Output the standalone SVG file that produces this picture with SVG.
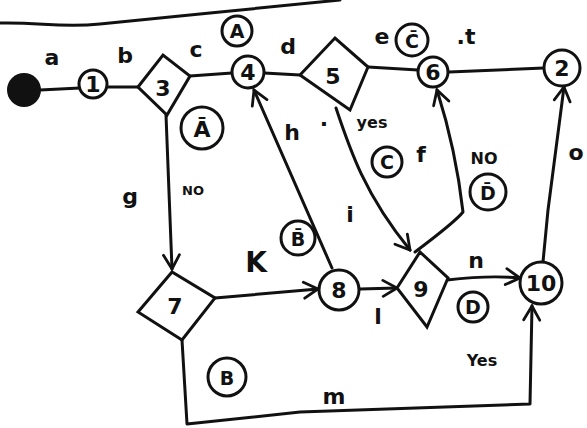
<svg xmlns="http://www.w3.org/2000/svg" width="587" height="428" viewBox="0 0 587 428">
<style>
.s{fill:none;stroke:#111;stroke-width:3;stroke-linecap:round;stroke-linejoin:round}
.n{fill:#fff;stroke:#111;stroke-width:3}
.t{font-family:"DejaVu Sans","Liberation Sans",sans-serif;fill:#111;text-anchor:middle;font-weight:bold}
.lab{font-size:22px}
.num{font-size:22px}
.cl{font-size:19px}
.sm{font-size:13px}
</style>
<defs>
<marker id="ar" markerUnits="userSpaceOnUse" markerWidth="20" markerHeight="20" viewBox="0 0 20 20" refX="18" refY="10" orient="auto">
<path d="M4,2 L18,10 L4,18" fill="none" stroke="#111" stroke-width="2.8" stroke-linecap="round"/>
</marker>
</defs>
<rect width="587" height="428" fill="#fff"/>
<path class="s" d="M0 23 C40 22 60 28 100 24 L210 13 L340 0" stroke-width="2.5"/>
<g id="connectors">
<path class="s" d="M40 90 L80 88" stroke-width="7"/>
<path class="s" d="M108 87 L138 87"/>
<path class="s" d="M190 76 L232 73"/>
<path class="s" d="M264 73 L300 75"/>
<path class="s" d="M368 67 L418 70"/>
<path class="s" d="M449 72 L544 68"/>
<path class="s" d="M166 115 L172 269" marker-end="url(#ar)"/>
<path class="s" d="M215 298 L318 289" marker-end="url(#ar)"/>
<path class="s" d="M332 268 L254 90" marker-end="url(#ar)"/>
<path class="s" d="M336 108 C350 150 365 195 410 250" marker-end="url(#ar)"/>
<path class="s" d="M360 289 L397 288" marker-end="url(#ar)"/>
<path class="s" d="M447 280 Q490 275 520 278" marker-end="url(#ar)"/>
<path class="s" d="M415 252 Q455 222 463 212 Q456 150 437 90" marker-end="url(#ar)"/>
<path class="s" d="M543 262 L548 210 L564 87" marker-end="url(#ar)"/>
<path class="s" d="M182 340 L187 424 L300 412 L530 404 L532 306" marker-end="url(#ar)"/>
</g>
<g id="start"><circle cx="24" cy="90" r="17" fill="#111"/></g>
<g id="n1"><circle class="n" cx="93" cy="84" r="14"/><text class="t num" x="93" y="92">1</text></g>
<g id="n3"><path class="n" d="M138 87 L163 55 L190 76 L167 115 Z"/><text class="t num" x="163" y="96">3</text></g>
<g id="n4"><circle class="n" cx="248" cy="72" r="16"/><text class="t num" x="248" y="80">4</text></g>
<g id="n5"><path class="n" d="M300 75 L335 38 L368 67 L350 110 Z"/><text class="t num" x="333" y="84">5</text></g>
<g id="n6"><circle class="n" cx="433" cy="72" r="15"/><text class="t num" x="433" y="80">6</text></g>
<g id="n2"><circle class="n" cx="562" cy="68" r="18"/><text class="t num" x="562" y="76">2</text></g>
<g id="n7"><path class="n" d="M138 312 L172 272 L215 298 L182 340 Z"/><text class="t num" x="175" y="314">7</text></g>
<g id="n8"><circle class="n" cx="339" cy="290" r="20"/><text class="t num" x="339" y="298">8</text></g>
<g id="n9"><path class="n" d="M397 288 L420 252 L448 278 L427 327 Z"/><text class="t num" x="421" y="297">9</text></g>
<g id="n10"><circle class="n" cx="541" cy="283" r="21"/><text class="t num" x="541" y="291">10</text></g>
<g id="labels">
<text class="t lab" x="52" y="65">a</text>
<text class="t lab" x="125" y="63">b</text>
<text class="t lab" x="196" y="57">c</text>
<text class="t lab" x="288" y="54">d</text>
<text class="t lab" x="382" y="44">e</text>
<text class="t lab" x="466" y="44">.t</text>
<text class="t lab" x="130" y="204">g</text>
<text class="t sm" x="193" y="195">NO</text>
<text class="t lab" x="292" y="140">h</text>
<text class="t lab" x="324" y="126">.</text>
<text class="t sm" x="372" y="128" style="font-size:16px">yes</text>
<text class="t lab" x="421" y="162">f</text>
<text class="t sm" x="484" y="164" style="font-size:16px">NO</text>
<text class="t lab" x="350" y="222">i</text>
<text class="t" x="256" y="272" style="font-size:28px">K</text>
<text class="t lab" x="378" y="324">l</text>
<text class="t lab" x="476" y="268">n</text>
<text class="t lab" x="576" y="160">o</text>
<text class="t sm" x="482" y="366" style="font-size:16px">Yes</text>
<text class="t lab" x="334" y="404">m</text>
</g>
<g id="conds">
<circle class="s" cx="237" cy="31" r="15" stroke-width="2.5"/><text class="t cl" x="237" y="38">A</text>
<circle class="s" cx="202" cy="128" r="21" stroke-width="2.5"/><text class="t cl" x="202" y="137" style="font-size:22px">Ā</text>
<circle class="s" cx="412" cy="40" r="16" stroke-width="2.5"/><text class="t cl" x="412" y="48">C̄</text>
<circle class="s" cx="387" cy="162" r="15" stroke-width="2.5"/><text class="t cl" x="387" y="169">C</text>
<circle class="s" cx="488" cy="192" r="18" stroke-width="2.5"/><text class="t cl" x="488" y="200">D̄</text>
<circle class="s" cx="298" cy="238" r="17" stroke-width="2.5"/><text class="t cl" x="298" y="246">B̄</text>
<circle class="s" cx="473" cy="307" r="15" stroke-width="2.5"/><text class="t cl" x="473" y="314">D</text>
<circle class="s" cx="227" cy="377" r="19" stroke-width="2.5"/><text class="t cl" x="227" y="385">B</text>
</g>
</svg>
